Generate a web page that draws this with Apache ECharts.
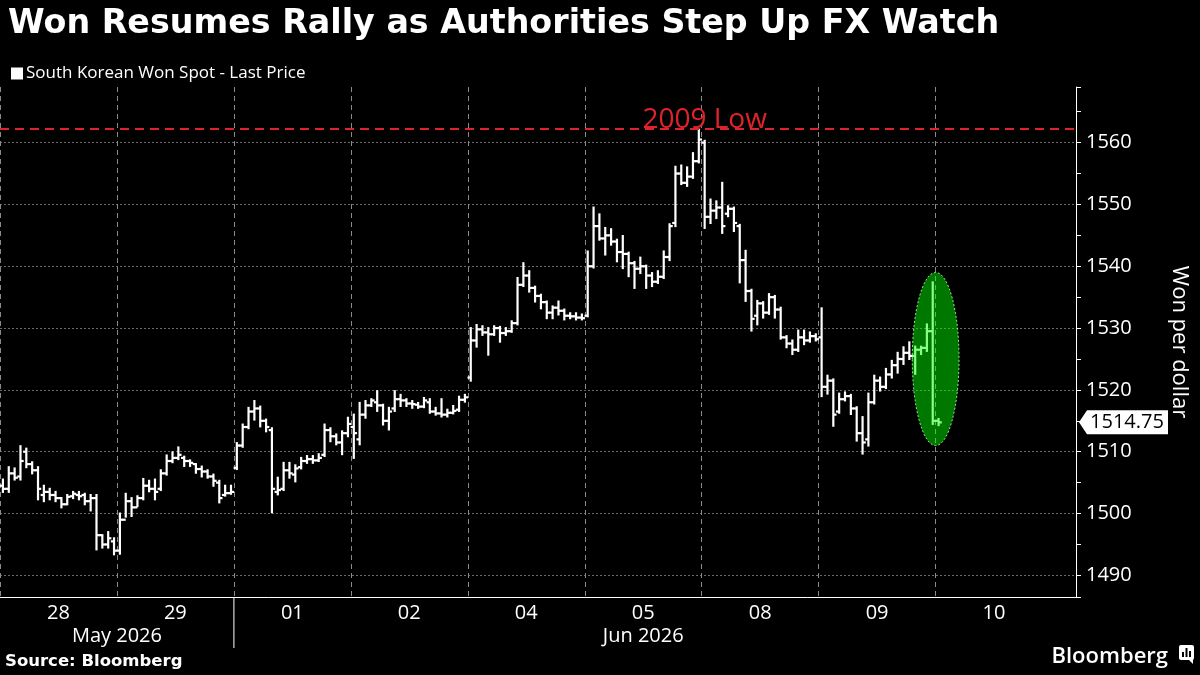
<!DOCTYPE html>
<html>
<head>
<meta charset="utf-8">
<script src="https://cdn.jsdelivr.net/npm/echarts@6/dist/echarts.min.js"></script>
<style>
html,body{margin:0;padding:0;background:#000;}
#chart{width:1200px;height:675px;}
</style>
</head>
<body>
<div id="chart"></div>
<script>
// ---- Data (each bar: [open, close, low, high]) ----
const dayLabels = ['28','29','01','02','04','05','08','09','10'];
const monthLabels = ['May 2026','Jun 2026'];
const slotsPerDay = 20;
const totalSlots = 184;
const lowLevel = 1562.3;          // 2009 low
const lowLabel = '2009 Low';
const seriesName = 'South Korean Won Spot - Last Price';
const highlightRange = {fromSlot:156, toSlot:163, top:1539, bottom:1511};
const yTicks = {min:1486.5, max:1569};

const may28 = [
 [1504.5,1504,1503.5,1505.5],[1504,1506.5,1503.5,1507.5],[1506.5,1505.8,1505.5,1507.3],[1506,1508.5,1505.5,1510.9],
 [1510,1508,1507.5,1510.5],[1508,1507,1506.5,1508.3],[1507,1504,1502.3,1507.5],[1503,1503.5,1502,1504.5],
 [1503.5,1503,1502.3,1504],[1503,1502.5,1502,1503.5],[1502.5,1501.5,1501,1502.5],[1501.5,1502.7,1501.5,1503],
 [1502.8,1503.2,1502.5,1503.5],[1503,1502.8,1502.3,1503.5],[1503,1502,1501.5,1503.2],[1502,1502.5,1500.5,1503],
 [1502.5,1496.5,1494.2,1503],[1496.5,1495,1494.5,1496.5],[1495,1496,1494.5,1497],[1495.5,1494,1493.4,1496]
];
const may29 = [
 [1494,1499,1493.5,1500],[1499,1502,1499.5,1503.2],[1502,1501,1499.6,1502.5],[1501,1502.5,1501.2,1502.8],
 [1502.5,1504.5,1502.3,1505.6],[1504.5,1504,1503.6,1505.3],[1504,1503.5,1502.3,1505.5],[1504,1506.5,1503.8,1507],
 [1506.5,1508.5,1506.3,1509.4],[1508.5,1509,1508.3,1509.9],[1509,1509.5,1508.8,1510.7],[1509,1508.5,1507.7,1509.2],
 [1508.5,1508.2,1507.7,1508.6],[1508,1507.2,1506.6,1508],[1507.2,1506.8,1506,1507.6],[1506.8,1506,1505.8,1507],
 [1506,1505.3,1504.5,1506.3],[1505,1502.5,1501.8,1505.3],[1503,1503.3,1502.9,1504.5],[1503.3,1503.5,1503.2,1504.5]
];
const jun01 = [
 [1507.4,1511,1507.2,1511.4],[1511,1514,1510.8,1514.4],[1514,1516.5,1513.8,1517.1],[1516.5,1517,1515.2,1518.2],
 [1517,1515,1514.1,1517.3],[1515,1514,1513.3,1515.2],[1513.5,1504,1500.2,1513.8],[1503.5,1503.8,1503.1,1505.8],
 [1504,1507,1503.8,1508.2],[1507,1506.5,1505.8,1508.2],[1506.3,1507.3,1505.2,1507.8],[1507.5,1508.5,1507.3,1509],
 [1508.5,1508.8,1508.2,1509.3],[1508.8,1508.6,1508.2,1509.3],[1508.6,1509,1508.5,1509.6],[1509.5,1513.5,1509.3,1514.4],
 [1513.5,1512.5,1511.7,1513.8],[1512.5,1511.5,1511.2,1512.8],[1511.5,1513,1509.6,1513.3],[1513,1514.5,1512.5,1515.5]
];
const jun02 = [
 [1514,1513,1509,1516],[1512,1516,1511.2,1517.9],[1516,1517.5,1515.5,1518.2],[1517.5,1518.3,1517.4,1518.5],
 [1518,1517.5,1516.6,1519.8],[1517.5,1515,1514.4,1517.6],[1515,1516.5,1513.6,1517.1],[1517,1518.5,1516.6,1519.8],
 [1518.5,1518.3,1517.4,1519.2],[1518.3,1517.8,1517.4,1518.5],[1517.8,1517.7,1517.1,1518.2],[1517.6,1517.3,1517.1,1517.9],
 [1517.3,1518.3,1517.2,1518.7],[1518,1516.5,1516.3,1518.5],[1516.5,1516.2,1516,1517.1],[1516.2,1516,1515.7,1518.5],
 [1516,1516.3,1515.7,1516.8],[1516.3,1516.6,1516.2,1517.4],[1516.8,1518.4,1516.6,1518.9],[1518.4,1518.8,1518.1,1519.2]
];
const jun04 = [
 [1522,1528,1521.5,1530],[1528,1529.8,1527,1530.5],[1529.8,1529.3,1528.9,1530.3],[1529.3,1529,1525.7,1530],
 [1529,1530,1528.9,1530.3],[1530,1529.2,1527.8,1530.2],[1529.2,1529.5,1528.9,1530],[1529.5,1530.8,1529.4,1531.1],
 [1530.8,1537,1530.6,1538.1],[1537,1538.5,1536.8,1540.5],[1538.5,1536.5,1535.9,1539.2],[1536.5,1535.2,1534.3,1536.7],
 [1535.2,1534.2,1533.2,1535.4],[1534.2,1532.5,1531.6,1534.3],[1532.5,1533.3,1531.6,1533.5],[1533.3,1532.8,1532.2,1534.3],
 [1532.8,1532,1531.4,1533],[1532,1531.9,1531.6,1532.4],[1531.9,1531.7,1531.4,1532.4],[1531.7,1531.6,1531.4,1532.2]
];
const jun05 = [
 [1532,1540,1531.9,1542.4],[1540,1546.5,1539.8,1549.5],[1546.5,1544.5,1544.3,1548.4],[1544.5,1545,1541.9,1546.2],
 [1545,1544,1543.5,1546],[1544,1542.3,1540.8,1544.3],[1542.3,1542,1539.7,1544.9],[1542,1540.5,1538.4,1542.2],
 [1540.5,1539.6,1536.5,1540.7],[1539.6,1540,1538.9,1541.4],[1540,1538.5,1536.5,1540.1],[1538.5,1537.5,1536.8,1538.9],
 [1537.5,1538.3,1537.3,1539.2],[1538.3,1541.5,1538.1,1542.4],[1541.5,1546.5,1541,1546.8],[1547,1555,1546.5,1556.1],
 [1555,1553.5,1553.3,1556.3],[1553.5,1554.5,1553,1556],[1554.5,1557,1554.3,1558.3],[1557,1560.5,1556.8,1562.1]
];
const jun08 = [
 [1560,1548,1546.2,1560.3],[1548,1549,1547,1550.8],[1549,1549.5,1547.8,1550.5],[1549.5,1546.5,1545.4,1553.5],
 [1548.5,1549.3,1548.1,1549.7],[1549.3,1547,1545.7,1549.5],[1546.5,1541,1537.4,1546.7],[1541,1536,1534.4,1542.5],
 [1536,1531.5,1529.6,1536.2],[1532,1534,1530.6,1534.4],[1534,1532.5,1531.7,1534.2],[1532.5,1535,1532.3,1535.5],
 [1535,1533,1531.7,1535.2],[1533,1528.5,1528.3,1533.3],[1528.5,1527.5,1526.9,1528.7],[1527.5,1526.5,1525.8,1528],
 [1526.5,1528.5,1526.3,1529.6],[1528.5,1528,1527.4,1529.6],[1528,1528.7,1527.8,1529.3],[1528.7,1528.2,1528,1529]
];
const jun09 = [
 [1528.5,1520.5,1519,1533.2],[1520.5,1521.5,1519.4,1522.3],[1521.5,1516,1514.2,1521.7],[1516.5,1518.5,1516.3,1519.4],
 [1518.5,1519,1518.3,1519.6],[1519,1517,1516.1,1519.2],[1517,1513,1511.8,1517.2],[1513,1511.5,1509.7,1515.6],
 [1512,1518,1511,1519.4],[1518,1521.5,1517.8,1522.3],[1521.5,1520.5,1519.9,1522],[1520.5,1522.5,1520.3,1523.4],
 [1522.5,1524,1522,1524.7],[1524,1525,1522.8,1526],[1525,1526,1524.2,1526.9],[1526,1525.5,1525,1527.7],
 [1525.5,1526.5,1522.6,1527],[1526.5,1526.8,1525.8,1527],[1526.8,1529.5,1526.3,1530.6],[1529.5,1515,1514.5,1537.4]
];
const jun10 = [
 [1515,1514.75,1514.3,1515.3]
];

// ---- Build options from data ----
const days = [may28, may29, jun01, jun02, jun04, jun05, jun08, jun09, jun10];
const categories = [];
for (let i = 0; i < totalSlots; i++) categories.push(String(i));
const bars = [];
days.forEach((d, di) => d.forEach((q, k) => bars.push([di * slotsPerDay + k, q[0], q[1], q[2], q[3]])));
const lastClose = bars[bars.length - 1][2];
const lastDaySlot = (dayLabels.length - 1) * slotsPerDay;

const FONT = 'Open Sans';
const GRID = {left: 0, right: 124, top: 87, bottom: 78};

const chart = echarts.init(document.getElementById('chart'), null, {renderer: 'canvas'});

const option = {
  backgroundColor: '#000',
  animation: false,
  textStyle: {fontFamily: FONT},
  title: {
    text: 'Won Resumes Rally as Authorities Step Up FX Watch',
    left: 3, top: 3,
    textStyle: {color: '#fff', fontFamily: 'DejaVu Sans', fontWeight: 'bold', fontSize: 33.3}
  },
  legend: {
    left: 6, top: 60,
    itemWidth: 12, itemHeight: 12, itemGap: 4,
    icon: 'rect',
    textStyle: {color: '#fff', fontFamily: FONT, fontSize: 17, padding: [0,0,0,-2]},
    data: [{name: seriesName, icon: 'rect', itemStyle: {color: '#fff'}}]
  },
  grid: GRID,
  xAxis: {
    type: 'category',
    data: categories,
    boundaryGap: true,
    axisLine: {show: true, lineStyle: {color: '#fff', width: 1}},
    axisTick: {show: false},
    axisLabel: {
      color: '#fff', fontSize: 20, fontFamily: FONT, margin: 6,
      padding: [0, 6, 0, 0],
      interval: (idx) => idx % slotsPerDay === slotsPerDay / 2,
      formatter: (v, idx) => dayLabels[Math.floor(idx / slotsPerDay)] || ''
    },
    splitLine: {
      show: true,
      interval: (idx) => idx % slotsPerDay === 0 && idx <= lastDaySlot,
      lineStyle: {color: '#8a8a8a', type: [5, 4], width: 1}
    }
  },
  yAxis: {
    type: 'value',
    position: 'right',
    min: yTicks.min, max: yTicks.max,
    splitNumber: 8,
    name: 'Won per dollar',
    nameLocation: 'middle',
    nameRotate: -90,
    nameGap: 92,
    nameTextStyle: {color: '#fff', fontSize: 22, fontFamily: FONT},
    axisLine: {show: true, lineStyle: {color: '#fff', width: 1}},
    axisTick: {show: true, length: 5, lineStyle: {color: '#fff'}},
    minorTick: {show: true, splitNumber: 2, length: 5, lineStyle: {color: '#fff'}},
    axisLabel: {color: '#fff', fontSize: 20, fontFamily: FONT, margin: 10, showMinLabel: false, showMaxLabel: false,
      formatter: (v) => String(v)},
    splitLine: {show: true, showMinLine: false, showMaxLine: false, lineStyle: {color: '#6a6a6a', type: [2, 2], width: 1}}
  },
  series: [{
    name: seriesName,
    type: 'custom',
    itemStyle: {color: '#fff'},
    data: bars,
    encode: {x: 0, y: [1, 2, 3, 4]},
    clip: true,
    renderItem: function (params, api) {
      const i = api.value(0);
      const o = api.value(1), c = api.value(2), l = api.value(3), h = api.value(4);
      const pl = api.coord([i, l]), ph = api.coord([i, h]);
      const po = api.coord([i, o]), pc = api.coord([i, c]);
      const w = api.size([1, 0])[0] * 0.55;
      const st = {stroke: '#fff', lineWidth: 2.2, fill: null};
      return {
        type: 'group',
        children: [
          {type: 'line', shape: {x1: pl[0], y1: pl[1] + 1, x2: ph[0], y2: ph[1] - 1}, style: st},
          {type: 'line', shape: {x1: po[0] - w, y1: po[1], x2: po[0], y2: po[1]}, style: st},
          {type: 'line', shape: {x1: pc[0], y1: pc[1], x2: pc[0] + w, y2: pc[1]}, style: st}
        ]
      };
    },
    markLine: {
      silent: true,
      symbol: ['none', 'none'],
      label: {show: false},
      lineStyle: {color: '#e0232b', type: [9, 6], width: 2},
      data: [{yAxis: lowLevel}]
    },
    markPoint: {
      silent: true,
      symbol: 'circle',
      symbolSize: 1,
      itemStyle: {color: 'rgba(0,0,0,0)'},
      label: {show: true, position: 'top', distance: -6, formatter: lowLabel, color: '#e0232b', fontSize: 28, fontFamily: FONT},
      data: [{coord: [120, lowLevel]}]
    }
  }]
};
chart.setOption(option);

// ---- Annotations placed through the chart's own coordinate conversion ----
function px(slot, val) { return chart.convertToPixel({gridIndex: 0}, [slot, val]); }
const axisX = chart.getWidth() - GRID.right;
const axisBottom = chart.getHeight() - GRID.bottom;
const slotW = px(1, 0)[0] - px(0, 0)[0];

const leftEdge = px(highlightRange.fromSlot, highlightRange.top)[0] - slotW / 2;
const rightEdge = px(highlightRange.toSlot, highlightRange.top)[0] + slotW / 2;
const topY = px(0, highlightRange.top)[1];
const botY = px(0, highlightRange.bottom)[1];

const lastY = px(0, lastClose)[1];
const b0 = px(0, 1500)[0] - slotW / 2;
const b2 = px(2 * slotsPerDay, 1500)[0] - slotW / 2;      // May/Jun boundary
const bEnd = px(lastDaySlot + slotsPerDay, 1500)[0] - slotW / 2;

chart.setOption({
  graphic: [
    {
      type: 'ellipse', z: 100, silent: true,
      shape: {cx: (leftEdge + rightEdge) / 2, cy: (topY + botY) / 2, rx: (rightEdge - leftEdge) / 2, ry: (botY - topY) / 2},
      style: {fill: 'rgba(0,255,0,0.47)', stroke: 'rgba(170,255,170,0.85)', lineWidth: 1, lineDash: [2, 2]}
    },
    {
      type: 'polygon', z: 100, silent: true,
      shape: {points: [[axisX + 3, lastY], [axisX + 11, lastY - 12], [axisX + 92, lastY - 12], [axisX + 92, lastY + 12], [axisX + 11, lastY + 12]]},
      style: {fill: '#fff'}
    },
    {
      type: 'text', z: 101, silent: true,
      x: axisX + 51, y: lastY,
      style: {text: lastClose.toFixed(2), fill: '#000', font: '20px "Open Sans"', textAlign: 'center', textVerticalAlign: 'middle'}
    },
    {
      type: 'line', z: 100, silent: true,
      shape: {x1: b2, y1: axisBottom, x2: b2, y2: axisBottom + 51},
      style: {stroke: '#fff', lineWidth: 1}
    },
    {
      type: 'text', silent: true,
      x: (b0 + b2) / 2, y: 636,
      style: {text: monthLabels[0], fill: '#fff', font: '20px "Open Sans"', textAlign: 'center', textVerticalAlign: 'middle'}
    },
    {
      type: 'text', silent: true,
      x: (b2 + bEnd) / 2, y: 636,
      style: {text: monthLabels[1], fill: '#fff', font: '20px "Open Sans"', textAlign: 'center', textVerticalAlign: 'middle'}
    },
    {
      type: 'text', silent: true,
      x: 5, y: 662,
      style: {text: 'Source: Bloomberg', fill: '#fff', font: 'bold 16.5px "DejaVu Sans"', textAlign: 'left', textVerticalAlign: 'middle'}
    },
    {
      type: 'text', silent: true,
      x: 1168, y: 657,
      style: {text: 'Bloomberg', fill: '#fff', font: '600 22px "Open Sans"', textAlign: 'right', textVerticalAlign: 'middle'}
    },
    {
      type: 'group', silent: true, x: 1179, y: 645,
      children: [
        {type: 'rect', shape: {x: 0, y: 0, width: 15, height: 15, r: 2}, style: {fill: '#fff'}},
        {type: 'polygon', shape: {points: [[9, 14], [14, 14], [14, 19]]}, style: {fill: '#fff'}},
        {type: 'rect', shape: {x: 3, y: 7, width: 2, height: 5}, style: {fill: '#000'}},
        {type: 'rect', shape: {x: 6.5, y: 3, width: 2, height: 9}, style: {fill: '#000'}},
        {type: 'rect', shape: {x: 10, y: 6, width: 2, height: 6}, style: {fill: '#000'}}
      ]
    }
  ]
});
</script>
</body>
</html>
